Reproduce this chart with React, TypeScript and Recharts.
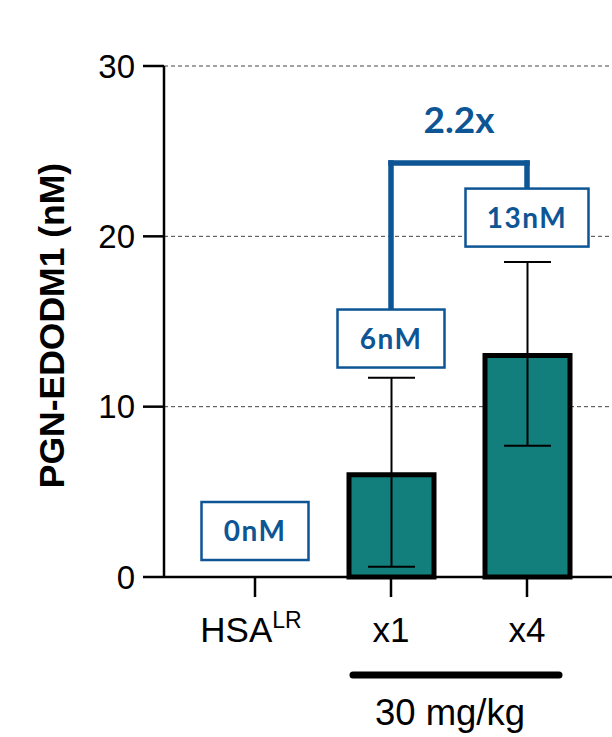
import React from "react";
import {
  BarChart,
  Bar,
  XAxis,
  YAxis,
  CartesianGrid,
  ErrorBar,
  ReferenceLine,
  ReferenceDot,
} from "recharts";

const groups = ["HSA", "x1", "x4"];
const means = [0, 6, 13];
const lowerBounds = [null, 0.6, 7.7];
const upperBounds = [null, 11.7, 18.5];
const yTicks = [0, 10, 20, 30];
const boxLabels = ["0nM", "6nM", "13nM"];
const boxLevels = [2.7, 14, 21.1];
const foldLabel = "2.2x";
const doseLabel = "30 mg/kg";
const yTitle = "PGN-EDODM1 (nM)";

const TEAL = "#127F7C";
const BLUE = "#0D5594";
const FONT = "'Liberation Sans', Arial, sans-serif";
const BOX_FONT = "Lato, 'Open Sans', sans-serif";

const data = groups.map((g, i) => {
  const lo = lowerBounds[i];
  const hi = upperBounds[i];
  return {
    group: g,
    mean: means[i],
    err: lo == null || hi == null ? null : [means[i] - lo, hi - means[i]],
  };
});

const GroupTick = (props: any) => {
  const { x, y, payload } = props;
  const v = payload.value;
  return (
    <text
      x={v === "HSA" ? x - 4 : x}
      y={y + 43}
      textAnchor="middle"
      fontSize={35}
      fill="#000"
      fontFamily={FONT}
    >
      {v === "HSA" ? (
        <>
          <tspan>HSA</tspan>
          <tspan dy={-14} fontSize={23}>
            LR
          </tspan>
        </>
      ) : (
        v
      )}
    </text>
  );
};

const yLabel = (props: any) => {
  const { x, y, height } = props.viewBox;
  return (
    <text
      transform={`translate(${x + 64},${y + height / 2 + 4}) rotate(-90)`}
      textAnchor="middle"
      fontSize={35.5}
      fontWeight="bold"
      fill="#000"
      fontFamily={FONT}
    >
      {yTitle}
    </text>
  );
};

const boxShape = (label: string) => (props: any) => {
  const { cx, cy } = props;
  const w = label.length > 3 ? 123 : 107;
  return (
    <g>
      <rect
        x={cx - w / 2}
        y={cy - 29}
        width={w}
        height={58}
        fill="#fff"
        stroke={BLUE}
        strokeWidth={2.5}
      />
      <text
        x={cx}
        y={cy + 10}
        textAnchor="middle"
        fontSize={28}
        fontWeight="bold"
        fill={BLUE}
        fontFamily={BOX_FONT}
        letterSpacing={1.5}
      >
        {label}
      </text>
    </g>
  );
};

const doseShape = (props: any) => {
  const { x1, y1, x2 } = props;
  return (
    <g>
      <line
        x1={x1 - 38}
        y1={y1}
        x2={x2 + 32}
        y2={y1}
        stroke="#000"
        strokeWidth={7}
        strokeLinecap="round"
      />
      <text
        x={(x1 + x2) / 2 - 9}
        y={y1 + 50}
        textAnchor="middle"
        fontSize={36.5}
        fill="#000"
        fontFamily={FONT}
      >
        {doseLabel}
      </text>
    </g>
  );
};

export default function App() {
  return (
    <div style={{ position: "absolute", left: 0, top: 0, background: "#fff" }}>
      <BarChart
        width={612}
        height={737}
        data={data}
        margin={{ top: 66, right: 0, bottom: 0, left: 0 }}
        style={{ fontFamily: FONT }}
      >
        <CartesianGrid
          vertical={false}
          stroke="#444"
          strokeDasharray="4 3"
          strokeWidth={1}
        />
        <XAxis
          dataKey="group"
          height={160}
          padding={{ left: 23, right: 17 }}
          interval={0}
          tickSize={20}
          tick={<GroupTick />}
          axisLine={{ stroke: "#000", strokeWidth: 2.5 }}
          tickLine={{ stroke: "#000", strokeWidth: 2.5 }}
        />
        <YAxis
          domain={[0, 30]}
          ticks={yTicks}
          width={164}
          tickSize={21}
          tickMargin={8}
          tick={{ fontSize: 33, fill: "#000", fontFamily: FONT }}
          axisLine={{ stroke: "#000", strokeWidth: 2.5 }}
          tickLine={{ stroke: "#000", strokeWidth: 2.5 }}
          label={yLabel}
        />
        <Bar
          dataKey="mean"
          barSize={85}
          fill={TEAL}
          stroke="#000"
          strokeWidth={5}
          isAnimationActive={false}
        >
          <ErrorBar
            dataKey="err"
            width={23.5}
            stroke="#000"
            strokeWidth={2}
            isAnimationActive={false}
          />
        </Bar>
        <ReferenceLine
          segment={[
            { x: "x1", y: 15.75 },
            { x: "x1", y: 24.3 },
          ]}
          stroke={BLUE}
          strokeWidth={5.5}
          strokeLinecap="square"
        />
        <ReferenceLine
          segment={[
            { x: "x1", y: 24.3 },
            { x: "x4", y: 24.3 },
          ]}
          stroke={BLUE}
          strokeWidth={5.5}
          strokeLinecap="square"
          label={{
            value: foldLabel,
            position: "top",
            offset: 30,
            fill: BLUE,
            fontSize: 37,
            fontWeight: "bold",
            fontFamily: BOX_FONT,
          }}
        />
        <ReferenceLine
          segment={[
            { x: "x4", y: 24.3 },
            { x: "x4", y: 22.85 },
          ]}
          stroke={BLUE}
          strokeWidth={5.5}
          strokeLinecap="square"
        />
        {groups.map((g, i) => (
          <ReferenceDot
            key={g}
            x={g}
            y={boxLevels[i]}
            r={1}
            ifOverflow="visible"
            shape={boxShape(boxLabels[i])}
          />
        ))}
        <ReferenceLine
          segment={[
            { x: "x1", y: -5.75 },
            { x: "x4", y: -5.75 },
          ]}
          ifOverflow="visible"
          shape={doseShape}
        />
      </BarChart>
    </div>
  );
}
